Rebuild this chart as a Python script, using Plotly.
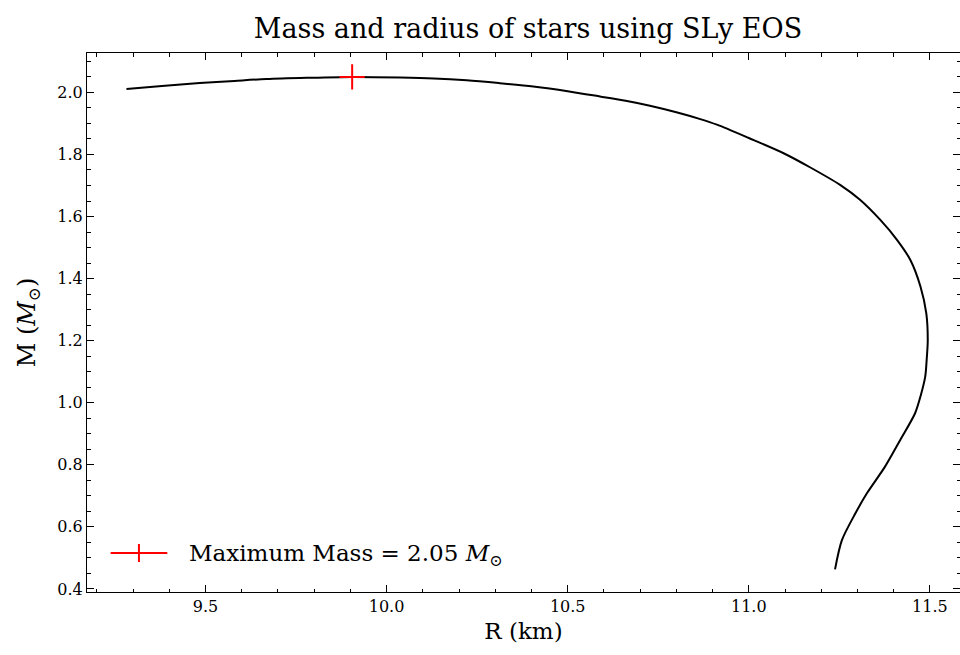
import plotly.graph_objects as go

# Mass-radius curve
R_km = [9.282, 9.38, 9.484, 9.58, 9.668, 9.78, 9.905, 10.037, 10.13, 10.221, 10.31,
        10.405, 10.50, 10.589, 10.66, 10.727, 10.80, 10.866, 10.912, 11.00, 11.096, 11.17,
        11.252, 11.307, 11.363, 11.409, 11.446, 11.474, 11.490, 11.494, 11.491,
        11.487, 11.475, 11.459, 11.418, 11.376, 11.326, 11.294, 11.257, 11.238]
M_sun = [2.011, 2.021, 2.030, 2.037, 2.043, 2.047, 2.050, 2.048, 2.045, 2.039, 2.030,
         2.019, 2.004, 1.987, 1.973, 1.957, 1.936, 1.914, 1.896, 1.853, 1.804, 1.758,
         1.702, 1.654, 1.589, 1.525, 1.460, 1.374, 1.288, 1.202, 1.138,
         1.084, 1.025, 0.966, 0.880, 0.794, 0.708, 0.643, 0.557, 0.463]

# Maximum mass point
R_max = [9.905]
M_max = [2.05]

title = "Mass and radius of stars using SLy EOS"
x_label = "R (km)"
y_label = "M (<i>M</i><sub>⊙</sub>)"
legend_label = "Maximum Mass = 2.05 <i>M</i><sub>⊙</sub>"

x_ticks = [9.5, 10.0, 10.5, 11.0, 11.5]
x_tick_text = ["9.5", "10.0", "10.5", "11.0", "11.5"]
y_ticks = [0.4, 0.6, 0.8, 1.0, 1.2, 1.4, 1.6, 1.8, 2.0]
y_tick_text = ["0.4", "0.6", "0.8", "1.0", "1.2", "1.4", "1.6", "1.8", "2.0"]

FONT = "DejaVu Serif"

fig = go.Figure()
fig.add_trace(go.Scatter(x=R_km, y=M_sun, mode="lines",
                         line=dict(color="black", width=2, shape="spline", smoothing=0.8),
                         showlegend=False, hoverinfo="skip"))
fig.add_trace(go.Scatter(x=R_max, y=M_max, mode="markers",
                         name=legend_label, showlegend=False,
                         marker=dict(symbol="cross-thin", size=18,
                                     line=dict(color="red", width=2), color="red")))

# Legend key (drawn in plot-area paper coordinates)
LEG_Y = 0.0724
fig.add_shape(type="line", xref="paper", yref="paper", x0=0.0271, x1=0.092,
              y0=LEG_Y, y1=LEG_Y, line=dict(color="red", width=2))
fig.add_shape(type="line", xref="paper", yref="paper", x0=0.0595, x1=0.0595,
              y0=LEG_Y - 0.0167, y1=LEG_Y + 0.0167, line=dict(color="red", width=2))
fig.add_annotation(xref="paper", yref="paper", x=0.1142, y=LEG_Y - 0.004, xanchor="left",
                   yanchor="middle", text=legend_label, showarrow=False,
                   font=dict(family=FONT, size=23, color="black"))

axis_common = dict(
    showline=True, linecolor="black", linewidth=1, mirror="allticks",
    ticks="inside", ticklen=7, tickwidth=1, tickcolor="black",
    showgrid=False, zeroline=False,
    tickfont=dict(family=FONT, size=16, color="black"),
)

fig.update_xaxes(range=[9.173, 11.583], tickvals=x_ticks, ticktext=x_tick_text,
                 minor=dict(dtick=0.1, ticks="inside", ticklen=3.5, tickwidth=1,
                            tickcolor="black", showgrid=False),
                 title=dict(text=x_label, font=dict(family=FONT, size=23, color="black"),
                            standoff=7),
                 **axis_common)
fig.update_yaxes(range=[0.390, 2.127], tickvals=y_ticks, ticktext=y_tick_text,
                 minor=dict(dtick=0.05, ticks="inside", ticklen=3.5, tickwidth=1,
                            tickcolor="black", showgrid=False),
                 title=dict(text=y_label, font=dict(family=FONT, size=24, color="black"),
                            standoff=14),
                 **axis_common)

fig.update_layout(
    width=960, height=655,
    margin=dict(l=87, r=0, t=53, b=63),
    paper_bgcolor="white", plot_bgcolor="white",
    title=dict(text=title, x=0.55, xanchor="center", y=0.957, yanchor="middle",
               font=dict(family=FONT, size=27, color="black")),
    showlegend=False,
    font=dict(family=FONT, color="black"),
)

fig.write_html("out.html")
